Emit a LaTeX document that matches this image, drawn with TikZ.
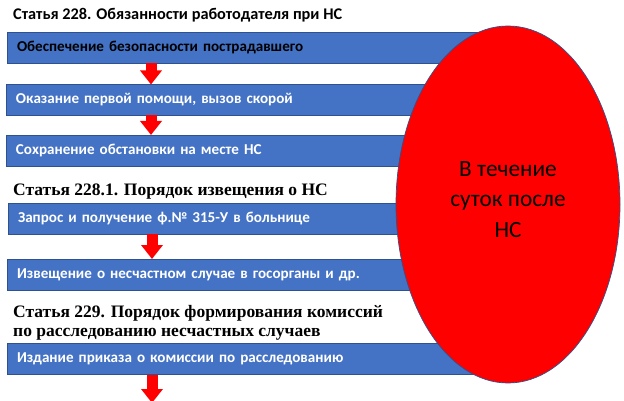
\documentclass[tikz,border=0pt]{standalone}
\usepackage{fontspec}
\setmainfont{Carlito}
\newfontfamily\tnr{Liberation Serif}
\usetikzlibrary{arrows.meta,shapes.geometric}
\definecolor{barblue}{HTML}{4472C4}
\definecolor{barline}{HTML}{2F528F}
\definecolor{redf}{HTML}{FF0000}
\tikzset{
  bar/.style={draw=barline, line width=0.7pt, fill=barblue, rectangle, anchor=north west,
    minimum height=31pt, text width=473pt, inner xsep=10pt, inner ysep=0pt, outer sep=0pt,
    align=left, text height=10.5pt, text depth=3pt, font=\bfseries\fontsize{15.1}{17}\selectfont, text=white},
  bigarrow/.style={draw=redf, line width=11pt, -{Triangle[width=21pt,length=14pt]}, redf},
  headsans/.style={anchor=base west, inner sep=0pt, font=\bfseries\fontsize{16.3}{18}\selectfont},
  headserif/.style={anchor=base west, inner sep=0pt, align=left, font=\tnr\bfseries\fontsize{17.5}{19}\selectfont},
}
\begin{document}
\begin{tikzpicture}[x=1pt,y=-1pt]
\useasboundingbox (0,0) rectangle (624,401);
\clip (0,0) rectangle (624,401);
\fill[white] (0,0) rectangle (624,401);
% bars
\node[bar, text=black] (b1) at (7,32) {Обеспечение безопасности пострадавшего};
\node[bar] (b2) at (6,84.5) {Оказание первой помощи, вызов скорой};
\node[bar] (b3) at (6,135) {Сохранение обстановки на месте НС};
\node[bar] (b4) at (8,203) {Запрос и получение ф.№ 315-У в больнице};
\node[bar] (b5) at (7,259) {Извещение о несчастном случае в госорганы и др.};
\node[bar] (b6) at (7,343.5) {Издание приказа о комиссии по расследованию};
% arrows
\coordinate (ax) at (151,0);
\coordinate (bx) at (152,0);
\coordinate (endarrow) at (152,403);
\draw[bigarrow] (b1.south -| ax) -- (b2.north -| ax);
\draw[bigarrow] (b2.south -| ax) -- (b3.north -| ax);
\draw[bigarrow] (b4.south -| bx) -- (b5.north -| bx);
\draw[bigarrow] (b6.south -| bx) -- (endarrow);
% ellipse
\node[ellipse, draw=barline, line width=0.7pt, fill=redf, minimum width=224pt, minimum height=357pt,
  inner sep=0pt] (el) at (508,204.5) {};
\node[inner sep=0pt, align=center, font=\fontsize{23.3}{30.5}\selectfont] (eltext) at (508,199.3)
  {В течение\\суток после\\НС};
% headings
\node[headsans] (h1) at (13,20) {Статья 228. Обязанности работодателя при НС};
\node[headserif] (h2) at (13,195) {Статья 228.1. Порядок извещения о НС};
\node[headserif] (h3) at (13,317) {Статья 229. Порядок формирования комиссий};
\node[headserif] (h4) at (13,336) {по расследованию несчастных случаев};
\end{tikzpicture}
\end{document}
